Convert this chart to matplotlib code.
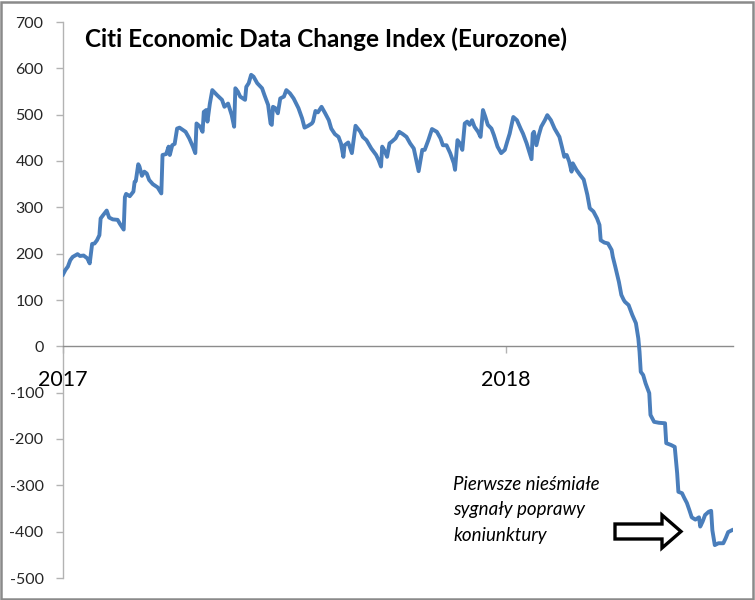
import matplotlib
matplotlib.use("Agg")
import matplotlib.pyplot as plt
import matplotlib.dates as mdates
from matplotlib.patches import FancyArrow, Rectangle
import pandas as pd
import numpy as np

title = "Citi Economic Data Change Index (Eurozone)"
note_lines = ["Pierwsze nieśmiałe", "sygnały poprawy", "koniunktury"]
start_date = "2017-01-01"
end_offset_days = 552
year_ticks = ["2017-01-01", "2018-01-01"]
year_labels = ["2017", "2018"]
y_ticks = [-500, -400, -300, -200, -100, 0, 100, 200, 300, 400, 500, 600, 700]

# day offsets from 2017-01-01 and index values
day_offsets = [
    0, 2, 4, 6, 8, 12, 14, 17, 20, 22, 24, 26, 28, 30, 31, 33, 36, 38, 41, 45,
    47, 50, 51, 52, 55, 58, 59, 60, 62, 63, 65, 67, 69, 71, 74, 78, 81, 82, 85, 87,
    88, 90, 92, 94, 96, 101, 104, 107, 109, 110, 113, 115, 116, 118, 119, 121, 123, 127, 131, 133,
    136, 139, 141, 142, 144, 146, 150, 151, 153, 155, 157, 160, 164, 166, 169, 171, 172, 173, 175, 177,
    179, 182, 184, 187, 190, 194, 197, 199, 202, 205, 206, 208, 210, 213, 216, 219, 221, 224, 227, 229,
    231, 232, 235, 238, 241, 245, 247, 250, 254, 258, 260, 262, 263, 265, 267, 269, 271, 274, 276, 277,
    280, 283, 286, 289, 291, 293, 296, 298, 301, 304, 308, 311, 313, 316, 319, 322, 323, 325, 327, 329,
    331, 333, 335, 337, 339, 342, 344, 346, 348, 350, 353, 355, 358, 361, 364, 366, 368, 371, 374, 377,
    379, 382, 386, 387, 388, 390, 392, 394, 397, 399, 402, 405, 409, 411, 413, 415, 417, 419, 420, 423,
    426, 429, 432, 434, 437, 440, 442, 443, 446, 449, 452, 453, 455, 458, 460, 462, 463, 466, 469, 472,
    474, 475, 476, 478, 480, 483, 484, 487, 491, 496, 497, 501, 504, 506, 507, 510, 512, 514, 516, 518,
    521, 524, 525, 527, 529, 532, 534, 535, 537, 540, 544, 546, 548, 551,
]
index_values = [
    155, 165, 172, 186, 193, 199, 195, 196, 190, 179, 221, 222, 229, 240, 276, 283, 293, 278, 274, 273,
    264, 252, 322, 329, 324, 334, 355, 357, 393, 388, 368, 377, 373, 359, 350, 343, 330, 413, 415, 431,
    413, 434, 437, 470, 472, 463, 449, 431, 417, 481, 474, 463, 506, 510, 485, 524, 553, 542, 532, 517,
    524, 499, 474, 557, 550, 539, 532, 560, 568, 586, 582, 568, 557, 542, 521, 481, 478, 517, 514, 503,
    535, 539, 553, 546, 535, 514, 492, 472, 476, 481, 485, 508, 505, 517, 503, 488, 470, 458, 452, 438,
    409, 434, 440, 417, 476, 463, 452, 445, 427, 413, 402, 388, 431, 422, 409, 438, 442, 449, 459, 463,
    458, 452, 438, 427, 402, 378, 424, 424, 445, 469, 463, 449, 434, 434, 417, 395, 381, 445, 438, 424,
    481, 485, 478, 488, 474, 463, 452, 510, 495, 478, 470, 456, 431, 417, 424, 442, 459, 495, 488, 470,
    459, 438, 404, 459, 463, 434, 456, 474, 488, 499, 488, 470, 452, 431, 409, 413, 399, 377, 395, 381,
    370, 360, 327, 298, 291, 276, 262, 229, 224, 222, 208, 193, 172, 139, 111, 100, 96, 89, 68, 50,
    17, -12, -55, -62, -80, -101, -148, -163, -165, -166, -209, -213, -217, -274, -314, -317, -328, -338, -353, -369,
    -374, -369, -389, -378, -364, -357, -355, -397, -429, -425, -425, -414, -401, -397,
]

t0 = pd.Timestamp(start_date)
dates = t0 + pd.to_timedelta(day_offsets, unit="D")

plt.rcParams["font.family"] = ["Lato", "DejaVu Sans"]

W, H = 755, 600
fig = plt.figure(figsize=(W / 100, H / 100), dpi=100)
ax = fig.add_axes([63 / W, 1 - 578 / H, (733 - 63) / W, (578 - 22) / H])

ax.plot(dates, index_values, color="#4a7ebb", lw=2.8, solid_joinstyle="round", zorder=3)

ax.set_ylim(-500, 700)
ax.set_xlim(t0, t0 + pd.Timedelta(days=end_offset_days))
ax.set_yticks(y_ticks)
ax.set_yticklabels([str(v) for v in y_ticks])

ax.set_xticks([pd.Timestamp(d) for d in year_ticks])
ax.set_xticklabels(year_labels)

for s in ["top", "right"]:
    ax.spines[s].set_visible(False)
ax.spines["bottom"].set_position(("data", 0))
ax.spines["left"].set_color("#b3b3b3")
ax.spines["bottom"].set_color("#8c8c8c")
ax.spines["left"].set_linewidth(1.0)
ax.spines["bottom"].set_linewidth(1.0)

ax.tick_params(axis="y", direction="out", length=5, width=1, color="#b3b3b3",
               labelsize=11.5, labelcolor="#262626", pad=9)
ax.tick_params(axis="x", direction="out", length=5, width=1, color="#b3b3b3",
               labelsize=15.5, labelcolor="#000000", pad=12)
ax.patch.set_alpha(0)

fig.text(85 / W, 1 - 47 / H, title, fontsize=17.5, fontweight="bold",
         ha="left", va="baseline", color="#000000")

for i, line in enumerate(note_lines):
    fig.text(453 / W, 1 - (485 + 25 * i) / H, line, fontsize=13.5, fontstyle="italic",
             ha="left", va="center", color="#000000")

arrow = FancyArrow(615 / 100, (H - 531.5) / 100, 0.47, 0, width=0.15,
                   head_width=0.33, head_length=0.19, length_includes_head=False,
                   facecolor="white", edgecolor="black", linewidth=2.4,
                   transform=fig.dpi_scale_trans, zorder=5)
fig.patches.append(arrow)

border = Rectangle((0.001, 0.002), 0.996, 0.995, transform=fig.transFigure,
                   fill=False, edgecolor="#8a8a8a", linewidth=1.8)
fig.patches.append(border)

fig.savefig("out.png", dpi=100, facecolor="white")
